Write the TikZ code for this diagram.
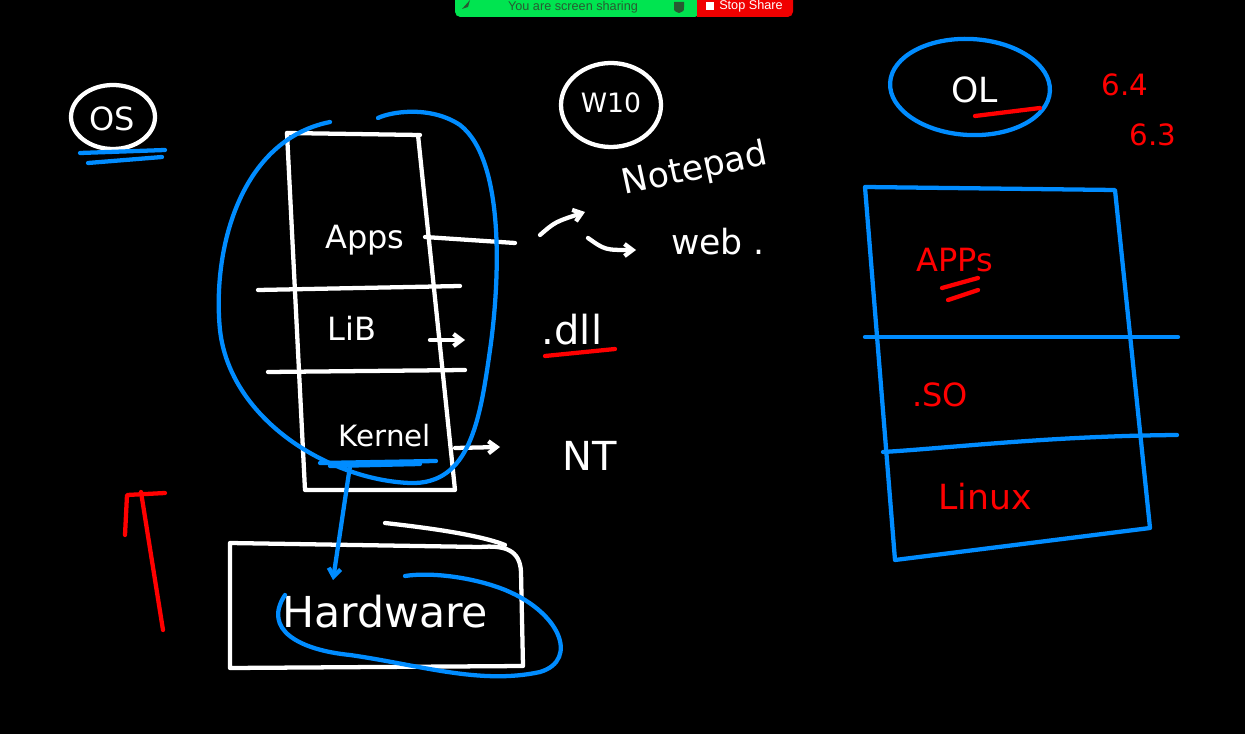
\documentclass[tikz,border=0pt]{standalone}
\usepackage{fontspec}
\setmainfont{DejaVu Sans}
\newfontfamily\barfont{Liberation Sans}
\usetikzlibrary{arrows.meta,calc,shapes.geometric}
\definecolor{pblue}{RGB}{0,140,255}
\definecolor{pred}{RGB}{255,0,0}
\definecolor{bargreen}{RGB}{0,228,80}
\definecolor{barred}{RGB}{240,0,0}
\definecolor{bartext}{RGB}{40,90,50}
\tikzset{
  wpen/.style={draw=white,line width=3.2pt,line cap=round,line join=round},
  bpen/.style={draw=pblue,line width=3.2pt,line cap=round,line join=round},
  rpen/.style={draw=pred,line width=3.2pt,line cap=round,line join=round},
  wtxt/.style={text=white,font=\fontsize{#1}{#1}\selectfont,inner sep=0pt},
  rtxt/.style={text=pred,font=\fontsize{#1}{#1}\selectfont,inner sep=0pt},
  tip/.style={-{Straight Barb[length=6pt,width=9pt]}},
}
\begin{document}
\begin{tikzpicture}[x=0.75pt,y=-0.75pt]
\fill[black] (0,0) rectangle (1245,734);
\useasboundingbox (0,0) rectangle (1245,734);
% top bar
\fill[bargreen,rounded corners=4pt] (455,-6) rectangle (700,17);
\fill[barred,rounded corners=4pt] (697,-6) rectangle (793,17);
\fill[barred] (697,-6) rectangle (710,17);
\node[text=bartext,font=\barfont\fontsize{9.5}{10}\selectfont,inner sep=0pt] (share) at (573,7) {You are screen sharing};
\fill[bartext] (674,2) -- (684,2) -- (684,7) .. controls (684,11) .. (679,13) .. controls (674,11) .. (674,7) -- cycle;
\fill[white] (706,2) rectangle (714,10);
\node[text=white,font=\barfont\fontsize{9.5}{10}\selectfont,inner sep=0pt,anchor=west] (stop) at (719,6) {Stop Share};
\fill[bartext] (462,9) -- (470,0) -- (468,7) -- cycle;

% OS
\node[wpen,ellipse,minimum width=63pt,minimum height=48pt] (oscirc) at (113,117) {};
\node[wtxt=24] (os) at (112,119) {OS};
\draw[bpen] (80,153) -- (165,150);
\draw[bpen] (88,163) -- (162,157);

% W10
\node[wpen,ellipse,minimum width=75pt,minimum height=63pt] (wcirc) at (611,105) {};
\node[wtxt=20] (w10) at (611,103) {W10};

% stack box
\draw[wpen] (287,133) -- (420,135);
\draw[wpen] (287,133) -- (305,490) -- (455,490) -- (418,135);
\draw[wpen] (258,290) -- (460,286);
\draw[wpen] (268,372) -- (465,370);
\node[wtxt=24] (apps) at (365,240) {Apps};
\node[wtxt=24] (lib) at (352,328) {LiB};
\node[wtxt=22] (kern) at (385,436) {Kernel};
\coordinate (appsR) at (425,237);
\coordinate (appsE) at (515,243);
\draw[wpen] (appsR) -- (appsE);

% notepad / web
\node[wtxt=26,rotate=12] (note) at (695,170) {Notepad};
\node[wtxt=26] (web) at (718,242) {web .};
\coordinate (a1s) at (540,235);
\coordinate (a1e) at (585,212);
\coordinate (a2s) at (588,238);
\coordinate (a2e) at (636,250);
\draw[wpen,tip] (a1s) .. controls (555,222) .. (a1e);
\draw[wpen,tip] (a2s) .. controls (605,250) .. (a2e);

% dll
\node[wtxt=30] (dll) at (572,330) {.dll};
\coordinate (libR) at (430,340);
\coordinate (libE) at (465,340);
\draw[wpen,tip] (libR) -- (libE);
\draw[rpen] (545,356) -- (615,349);

% NT
\node[wtxt=30] (nt) at (590,456) {NT};
\coordinate (kernR) at (455,448);
\coordinate (kernE) at (500,447);
\draw[wpen,tip] (kernR) -- (kernE);

% blue blob around stack
\draw[bpen] (330,122) .. controls (240,140) and (212,250) .. (220,330)
  .. controls (230,420) and (330,480) .. (410,483)
  .. controls (470,485) and (480,420) .. (490,350)
  .. controls (500,280) and (505,160) .. (460,125)
  .. controls (430,105) and (390,112) .. (378,118);
\draw[bpen] (320,463) -- (436,461);
\draw[bpen] (330,466) -- (420,464);

% hardware
\node[wtxt=32] (hw) at (385,612) {Hardware};
\draw[wpen] (230,543) -- (230,668) -- (523,666) -- (521,572) .. controls (520,550) and (505,545) .. (480,547) -- (230,543);
\draw[wpen] (385,523) .. controls (430,528) and (480,535) .. (505,545);
\coordinate (kb) at (350,466);
\coordinate (ka) at (333,580);
\draw[bpen,tip] (kb) -- (ka);
\draw[bpen] (285,595) .. controls (262,630) and (300,650) .. (350,655)
  .. controls (420,665) and (480,685) .. (540,672)
  .. controls (580,660) and (560,610) .. (500,588)
  .. controls (470,577) and (430,572) .. (405,576);

% red arrow left
\coordinate (rbot) at (163,630);
\coordinate (rtop) at (141,492);
\draw[rpen] (rbot) -- (rtop);
\draw[rpen] (125,535) -- (127,495) -- (165,493);

% OL
\node[bpen,ellipse,minimum width=120pt,minimum height=72pt,rotate=-3] (olcirc) at (970,87) {};
\node[wtxt=26] (ol) at (975,90) {OL};
\draw[rpen] (975,116) -- (1040,108);
\node[rtxt=22] (v64) at (1125,85) {6.4};
\node[rtxt=22] (v63) at (1153,135) {6.3};

% right box
\draw[bpen] (865,187) -- (1115,190) -- (1150,528) -- (895,560) -- cycle;
\draw[bpen] (865,337) -- (1178,337);
\draw[bpen] (883,452) .. controls (950,448) and (1050,436) .. (1177,435);
\node[rtxt=24] (apps2) at (955,260) {APPs};
\draw[rpen] (942,288) -- (978,278);
\draw[rpen] (948,300) -- (978,290);
\node[rtxt=24] (so) at (940,395) {.SO};
\node[rtxt=26] (linux) at (985,497) {Linux};
\end{tikzpicture}
\end{document}
